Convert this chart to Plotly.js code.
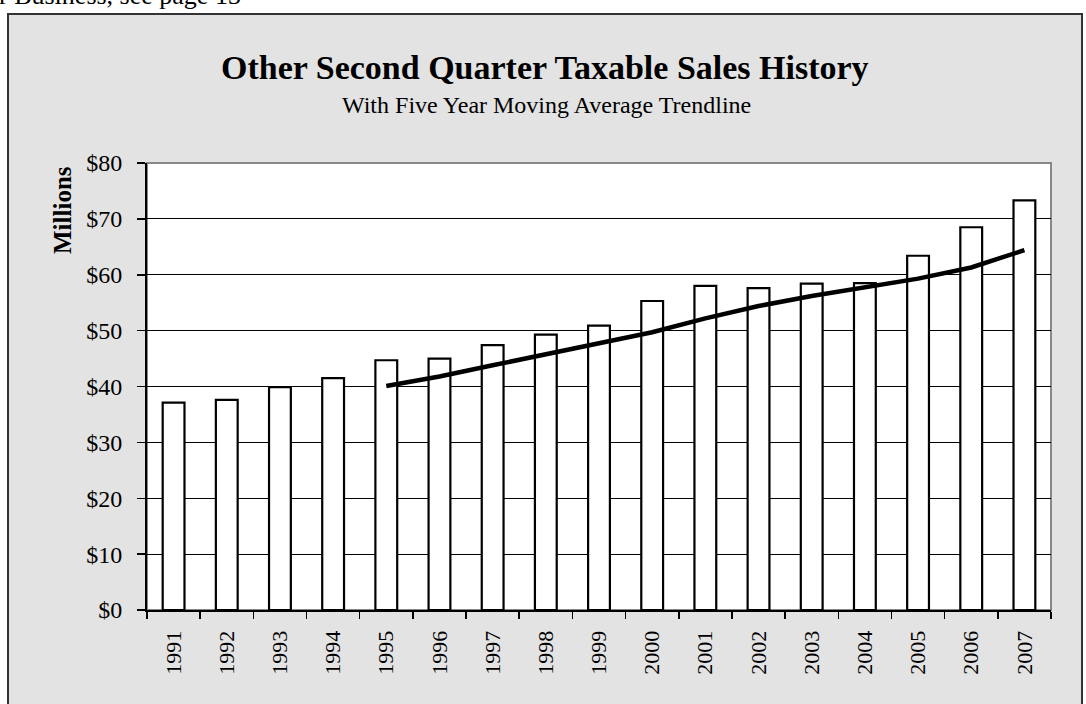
<!DOCTYPE html>
<html>
<head>
<meta charset="utf-8">
<script src="https://cdn.plot.ly/plotly-3.0.1.min.js"></script>
<style>html,body{margin:0;padding:0;background:#fff;}#chart{width:1086px;height:704px;}</style>
</head>
<body>
<div id="chart"></div>
<script>
const years = ["1991","1992","1993","1994","1995","1996","1997","1998","1999","2000","2001","2002","2003","2004","2005","2006","2007"];
const salesValues = [37.1,37.6,39.9,41.5,44.7,45.0,47.4,49.3,50.9,55.3,58.0,57.6,58.4,58.5,63.4,68.5,73.3];
const trendValues = [null,null,null,null,40.1,41.8,43.8,45.7,47.6,49.7,52.2,54.4,56.2,57.7,59.3,61.3,64.4];
const yTickValues = [0,10,20,30,40,50,60,70,80];
const yTickLabels = ["$0","$10","$20","$30","$40","$50","$60","$70","$80"];

const FONT = "Liberation Serif, 'Times New Roman', Times, serif";
const W = 1086, H = 704;
const L = 147, R = 35, T = 163, B = 94;
const pw = W - L - R, ph = H - T - B;
const px = x => (x - L) / pw;
const py = y => (H - B - y) / ph;

const traces = [
  {
    type: "bar",
    x: years,
    y: salesValues,
    marker: {color: "#ffffff", line: {color: "#000000", width: 2.2}},
    hoverinfo: "skip"
  },
  {
    type: "scatter",
    mode: "lines",
    x: years,
    y: trendValues,
    line: {color: "#000000", width: 4.5},
    connectgaps: false,
    hoverinfo: "skip"
  }
];

const layout = {
  width: W, height: H,
  margin: {l: L, r: R, t: T, b: B, pad: 0},
  paper_bgcolor: "#ffffff",
  plot_bgcolor: "#ffffff",
  showlegend: false,
  hovermode: false,
  bargap: 0.59,
  font: {family: FONT, color: "#000"},
  xaxis: {
    type: "category",
    showgrid: false,
    showline: true, linecolor: "#000", linewidth: 2,
    ticks: "outside", tickson: "boundaries", ticklen: 7, tickwidth: 1.5, tickcolor: "#000",
    tickangle: -90,
    tickfont: {family: FONT, size: 22, color: "#000"},
    ticklabelstandoff: 10,
    fixedrange: true
  },
  yaxis: {
    range: [0, 80],
    tickmode: "array",
    tickvals: yTickValues,
    ticktext: yTickLabels,
    showgrid: true, gridcolor: "#000", gridwidth: 1,
    zeroline: false,
    showline: true, linecolor: "#000", linewidth: 2,
    ticks: "outside", ticklen: 8, tickwidth: 1.5, tickcolor: "#000",
    tickfont: {family: FONT, size: 24, color: "#000"},
    ticklabelstandoff: 10,
    fixedrange: true
  },
  shapes: [
    {type: "rect", xref: "paper", yref: "paper", layer: "below",
     x0: px(8), x1: px(1082), y0: py(14), y1: py(730),
     fillcolor: "#e3e3e3", line: {color: "#333333", width: 2}},
    {type: "rect", xref: "paper", yref: "paper", layer: "below",
     x0: 0, x1: 1, y0: 0, y1: 1,
     fillcolor: "#ffffff", line: {color: "#888888", width: 2}}
  ],
  annotations: [
    {xref: "paper", yref: "paper", x: px(545), y: py(68), xanchor: "center", yanchor: "middle",
     text: "<b>Other Second Quarter Taxable Sales History</b>", showarrow: false,
     font: {family: FONT, size: 34, color: "#000"}},
    {xref: "paper", yref: "paper", x: px(546), y: py(105), xanchor: "center", yanchor: "middle",
     text: "With Five Year Moving Average Trendline", showarrow: false,
     font: {family: FONT, size: 24, color: "#000"}},
    {xref: "paper", yref: "paper", x: px(62), y: py(210), xanchor: "center", yanchor: "middle",
     text: "<b>Millions</b>", textangle: -90, showarrow: false,
     font: {family: FONT, size: 25, color: "#000"}},
    {xref: "paper", yref: "paper", x: px(-3), y: py(-4), xanchor: "left", yanchor: "middle",
     text: "r Business, see page 13", showarrow: false,
     font: {family: FONT, size: 26, color: "#000"}}
  ]
};

Plotly.newPlot("chart", traces, layout, {displayModeBar: false, staticPlot: true});
</script>
</body>
</html>
